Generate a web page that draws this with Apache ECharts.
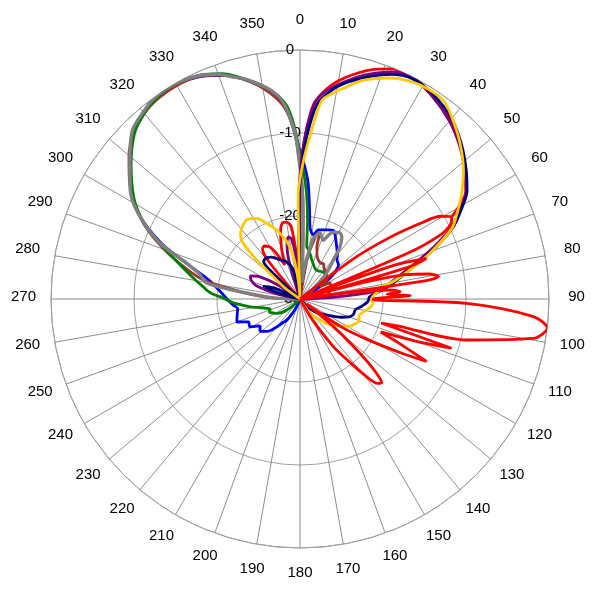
<!DOCTYPE html>
<html>
<head>
<meta charset="utf-8">
<script src="https://cdn.jsdelivr.net/npm/echarts@6/dist/echarts.min.js"></script>
<style>html,body{margin:0;padding:0;background:#fff}#chart{width:600px;height:600px}</style>
</head>
<body>
<div id="chart"></div>
<script>
// Radial axis (dB) ticks and angular step
const radialTicks = [-30, -20, -10, 0];
const angleStep = 10;

// Gray
const grayAng = [265,272,276,278,280,284,287.5,292,298.5,303,308.5,315,320,324,329,333,336,340,343,346,349,352,355,358.3,359.5,0.8,2,4,6,8,11,12.5,17,21.5,24,26.5,31,34,37.5,40.5,43,47,52,56,60];
const grayDb  = [-30,-27,-24,-21,-18.5,-17.5,-15.7,-11.6,-7.6,-5.6,-3.8,-1.4,-0.6,-0.1,0,-0.2,-0.5,-1.2,-2,-2.7,-3.6,-4.6,-6.1,-10,-13,-15.8,-20,-26,-28,-26,-23.8,-22.5,-21.7,-22.4,-21.6,-21,-20.7,-21,-22.1,-23.8,-24.7,-26,-28,-30,-30];

// Blue
const blueAng = [198,203,208,212,216,220,225,231,236,241,246,250,256,261,265,270,274,278,282,287,292,298,303,308,315,320,324,329,333,337,341,344,347,350,353,356,358,0,2,4,6,8,11.7,14.9,19,22.3,25.8,28.7,35,40,43.3,48.4,52,56,60,65];
const blueDb  = [-30,-29,-28,-27,-26.5,-25.6,-24.5,-23.8,-24.2,-23.1,-23.2,-21.9,-22.2,-22.4,-21.9,-21.2,-20.6,-19.8,-18.7,-16,-11.9,-7.9,-5.8,-4.1,-1.6,-0.8,-0.3,-0.15,-0.35,-0.8,-1.5,-2.2,-3.1,-4.1,-5.2,-7.2,-9.6,-12.2,-14,-16,-19,-21.3,-22.1,-21.4,-21.2,-21,-20.8,-21.2,-22.3,-23,-23.5,-23.8,-24.5,-26,-28,-30];

// Green
const greenAng = [222,226,230,234,238.5,243,247,251,254.5,258,261,264,266.5,269,271.5,273,274.5,277,280,284,289,295,300,304,308.5,315,320,324,329,333,337,341,344,347,350,353,356,358,0,2.4,4,5.5,7.3,10,13,17,22,26,32,38,44,48,53,58];
const greenDb  = [-30,-28.8,-28,-27.2,-26.7,-26.3,-26,-26.2,-25.8,-25,-23.9,-23,-22,-21.3,-20.4,-19.6,-19,-18.3,-17.3,-15.8,-13.4,-9.6,-7.1,-5.6,-4,-1.8,-0.8,-0.3,0,-0.2,-0.6,-1.3,-2.1,-3,-3.9,-5,-6.6,-9,-12.5,-15.7,-18,-20.5,-23.6,-24,-24.5,-25.1,-25.6,-25.9,-26,-25.8,-25.7,-26,-27,-30];

// Brown
const brownAng = [268,272,275,278,281,285,290,295,300,305,310,315,320,325,330,335,340,345,350,355,358,0,2,4,6,8,10,11.5,13,15,16.5,18,21,25,30,34,38,42,48,54,58,62,67,73,80,85,90];
const brownDb  = [-30,-27,-24.5,-21.9,-18.2,-15.8,-12.6,-9.5,-7,-4.9,-3.1,-1.7,-0.8,-0.4,-0.3,-0.5,-1.3,-2.5,-4.2,-6.6,-9.8,-14,-19,-25,-28,-30,-25.5,-24,-23,-21.8,-21.9,-23.4,-24.3,-24.8,-25,-24.9,-25.3,-25.4,-25.7,-26,-27.2,-25.9,-26,-26.2,-26.5,-26.6,-30];

// Purple
const purpleAng = [278,283,287,291,295,299,303,307,341,344,347,349.5,352,354.5,356.5,358.5,359.5,0.5,1.5,2.5,4.3,6.5,9,12.5,16.6,22,27,33,40,46,52,57,61,65,68.5,72,76,80,83.6,85.5,87,89];
const purpleDb  = [-30,-27,-24.5,-23.7,-23.4,-24.5,-27,-30,-30,-25,-23,-22.4,-22.7,-25,-30,-24,-17,-13.5,-11,-9,-6.3,-5,-4.1,-3,-1.8,-0.5,0,-0.8,-2,-3.3,-4.8,-6.1,-8,-10,-12.5,-15,-17.3,-19,-20.2,-23,-26,-30];

// Navy
const navyAng = [280,285,289,293,297,312,314,316,321,326,333,340,347,350,358,359.5,1,2.5,5,9,12.5,17,22,27,33,40,46,52,57,61,65,69,72.5,76,80,84,88,92,96,101,106,110,114,118,124,130,136,140];
const navyDb  = [-30,-27.5,-25.3,-26.5,-30,-30,-25,-23.7,-23.6,-23.9,-24.7,-25.2,-26.4,-30,-30,-18,-13.5,-10.2,-6.5,-4.4,-3.2,-2,-0.8,-0.2,-0.6,-1.6,-3,-4.6,-6,-7.8,-9.7,-12.4,-14.8,-16.8,-18.5,-20.1,-21.6,-21.8,-22.4,-23.2,-23.3,-23.7,-24.6,-25.6,-26.8,-27.4,-28.8,-30];

// Yellow (gold)
const yellowAng = [300,306,309,312,314.5,317,320,323,326,329,332,336,340,343,346,349,352,355,357.5,359,1,3.4,6.2,9,12.5,16,21.4,25,30,35.8,40,45.8,52,57,61,65,70.6,75.2,79.5,81.3,84,86.5,90.8,93.4,97,99.4,103,106,110.5,115,119,124,128,133,136.5,139.5,145,150];
const yellowDb  = [-30,-28,-26.4,-23,-20.4,-19.5,-19,-18.7,-18.5,-18.7,-19,-20,-20.9,-21.7,-22.6,-23.6,-25.5,-28,-30,-17.5,-14,-10.5,-6,-4.9,-3.8,-2.6,-1.4,-0.8,-0.4,-0.5,-1.5,-3.1,-5,-6.8,-8.3,-9.8,-13.4,-16.3,-18.6,-20.2,-20.4,-21,-21.4,-21.2,-21.5,-21.9,-22.4,-22.6,-22.4,-22.8,-23.2,-24.2,-24.9,-25.7,-26.5,-27,-27.9,-30];

// Red: main lobe part
const redMainAng = [316,320,323,326,329,332,336,340,344,347,350,353,355.5,357.5,359.5,0.5,2,4,7,10,14,18,22,26,30,35,40,46,52,57,60,61.5];
const redMainDb  = [-30,-24.5,-22.5,-22.3,-22.6,-23.5,-25.5,-23.5,-21.5,-20.6,-20.6,-21.2,-25,-30,-20,-14,-10,-6.5,-4.6,-3.3,-2,-0.9,-0.1,0,-0.4,-1.1,-1.9,-3.2,-4.8,-6.2,-8,-9.2];

// Red: side lobes
const redSideAng = [50,53,55.5,57.8,59.6,61.5,63.5,65.5,67,68.5,70.3,72.2,73.6,75.2,77,79,80.8,81.8,83,84.3,85.8,86.8,87.6,88.2,89,89.8,90.5,91.5,94.3,96.7,99.6,103.8,105.5,106.5,108,110,112.2,114,116.3,118,121,124,127,129.5,131.5,133.5,135.7,137.5,139.4,142,145,149,153];
const redSideDb  = [-30,-22,-17,-13,-10.3,-9.2,-9.7,-11.5,-16,-30,-18,-14,-16.5,-30,-17,-14.2,-13.1,-15,-30,-19.1,-17.9,-19.5,-18.3,-16.7,-19.5,-21,-21.2,-9.9,-1.8,0,-1.5,-9.3,-18,-19.8,-10.8,-15.2,-19.5,-17,-13,-16,-20.5,-24,-29,-25,-21.5,-18,-15.9,-16.2,-17.7,-20.5,-23,-27,-30];

function pts(ang, db) { return ang.map((a, i) => [db[i], a]); }

const seriesDefs = [
  { name: 'red-main', ang: redMainAng, db: redMainDb, color: '#FF0000', w: 2.8 },
  { name: 'blue', ang: blueAng, db: blueDb, color: '#0000FF', w: 2.8 },
  { name: 'brown', ang: brownAng, db: brownDb, color: '#A0322D', w: 2.8 },
  { name: 'green', ang: greenAng, db: greenDb, color: '#008000', w: 2.8 },
  { name: 'gray', ang: grayAng, db: grayDb, color: '#808080', w: 3.4 },
  { name: 'purple', ang: purpleAng, db: purpleDb, color: '#800080', w: 2.8 },
  { name: 'navy', ang: navyAng, db: navyDb, color: '#000080', w: 2.8 },
  { name: 'yellow', ang: yellowAng, db: yellowDb, color: '#FFC800', w: 2.8 },
  { name: 'red-side', ang: redSideAng, db: redSideDb, color: '#FF0000', w: 2.8 }
];

const labelFont = 'Liberation Sans, Arial, sans-serif';

const chart = echarts.init(document.getElementById('chart'), null, { renderer: 'canvas' });
chart.setOption({
  animation: false,
  backgroundColor: '#ffffff',
  polar: { center: [300, 299], radius: 249 },
  angleAxis: {
    type: 'value', min: 0, max: 360, interval: angleStep,
    startAngle: 90, clockwise: true,
    axisLine: { show: true, lineStyle: { color: '#a0a0a0', width: 1 } },
    axisTick: { show: false },
    axisLabel: {
      margin: 27, color: '#000', fontSize: 15, fontFamily: labelFont,
      formatter: v => (v >= 360 ? '' : '{c|' + v + '}'),
      rich: {
        c: { width: 1, lineHeight: 1, align: 'center', verticalAlign: 'middle',
             padding: [0, 0, 5, 0],
             fontSize: 15, fontFamily: labelFont, color: '#000' }
      }
    },
    splitLine: { show: true, lineStyle: { color: '#707070', width: 0.8 } }
  },
  radiusAxis: {
    type: 'value', min: radialTicks[0], max: radialTicks[radialTicks.length - 1], interval: 10,
    axisLine: { show: false },
    axisTick: { show: false },
    axisLabel: {
      margin: 10, align: 'center', color: '#000', fontSize: 15, fontFamily: labelFont
    },
    splitLine: { show: true, lineStyle: { color: '#a0a0a0', width: 1 } }
  },
  series: seriesDefs.map((s, i) => ({
    name: s.name, type: 'line', coordinateSystem: 'polar',
    data: pts(s.ang, s.db), showSymbol: false, symbol: 'none',
    smooth: 0.3, z: 2 + i * 0.01,
    lineStyle: { color: s.color, width: s.w },
    silent: true
  }))
});
</script>
</body>
</html>
